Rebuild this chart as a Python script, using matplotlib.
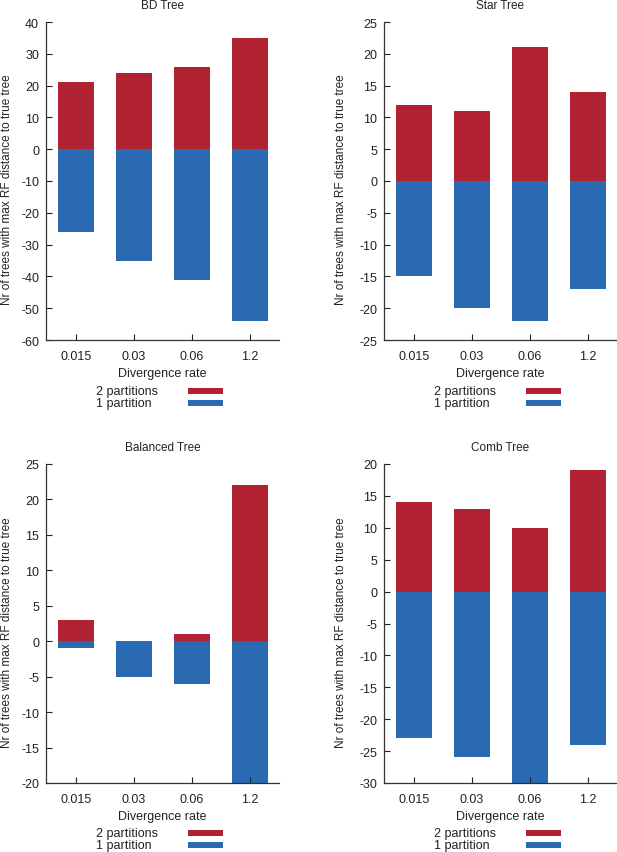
import numpy as np
import matplotlib
matplotlib.use("Agg")
import matplotlib.pyplot as plt
from matplotlib.patches import Rectangle

plt.rcParams['font.family'] = ['Liberation Sans', 'DejaVu Sans']
plt.rcParams['font.size'] = 8
plt.rcParams['axes.unicode_minus'] = False

rates = ['0.015', '0.03', '0.06', '1.2']

titles = ['BD Tree', 'Star Tree', 'Balanced Tree', 'Comb Tree']
two_parts = {
    'BD Tree': [21, 24, 26, 35],
    'Star Tree': [12, 11, 21, 14],
    'Balanced Tree': [3, 0, 1, 22],
    'Comb Tree': [14, 13, 10, 19],
}
one_part = {
    'BD Tree': [26, 35, 41, 54],
    'Star Tree': [15, 20, 22, 17],
    'Balanced Tree': [1, 5, 6, 20],
    'Comb Tree': [23, 26, 30, 24],
}
ylims = {
    'BD Tree': (-60, 40, 10),
    'Star Tree': (-25, 25, 5),
    'Balanced Tree': (-20, 25, 5),
    'Comb Tree': (-30, 20, 5),
}

RED = '#b02232'
BLUE = '#2a6ab3'
TXT = '#222222'

W, H = 617, 853
fig = plt.figure(figsize=(W / 100, H / 100), dpi=100)

# panel boxes in pixels: left, right, top, bottom
boxes = [(46, 279, 23, 341), (384, 617, 23, 341),
         (46, 279, 465, 784), (384, 617, 465, 784)]
legend_y = [392, 392, 834, 834]
ylabel_x = [-0.143, -0.158, -0.143, -0.158]

for name, (l, r, t, b), ly, lx in zip(titles, boxes, legend_y, ylabel_x):
    ax = fig.add_axes([l / W, 1 - b / H, (r - l) / W, (b - t) / H])
    x = np.arange(len(rates))
    h2 = ax.bar(x, two_parts[name], width=0.62, color=RED, label='2 partitions')
    h1 = ax.bar(x, -np.array(one_part[name]), width=0.62, color=BLUE, label='1 partition')

    lo, hi, step = ylims[name]
    ax.set_ylim(lo, hi)
    ax.set_yticks(np.arange(lo, hi + 1, step))
    ax.set_xlim(-0.52, 3.5)
    ax.set_xticks(x)
    ax.set_xticklabels(rates)

    for s in ['top', 'right']:
        ax.spines[s].set_visible(False)
    for s in ['left', 'bottom']:
        ax.spines[s].set_linewidth(0.9)
        ax.spines[s].set_color('#333333')
    ax.tick_params(direction='in', length=4, width=0.8, colors=TXT,
                   labelsize=9, pad=5)
    ax.tick_params(axis='x', pad=7)

    ax.set_title(name, fontsize=8.5, pad=10, color=TXT)
    ax.set_xlabel('Divergence rate', fontsize=9, labelpad=4, color=TXT)
    ax.set_ylabel('Nr of trees with max RF distance to true tree', fontsize=8.5,
                  color=TXT)
    ax.yaxis.set_label_coords(lx, 0.475)

    # key: labels left aligned, colour swatches to the right
    for k, (h, lab) in enumerate([(h2, '2 partitions'), (h1, '1 partition')]):
        yc = ly + 12 * k
        fig.text((l + 50) / W, 1 - yc / H, lab, fontsize=9, color=TXT,
                 ha='left', va='center')
        fig.patches.append(Rectangle(((l + 142) / W, 1 - (yc + 3) / H),
                                     35 / W, 6 / H, transform=fig.transFigure,
                                     facecolor=h.patches[0].get_facecolor(),
                                     edgecolor='none'))

fig.savefig('out.png', dpi=100)
